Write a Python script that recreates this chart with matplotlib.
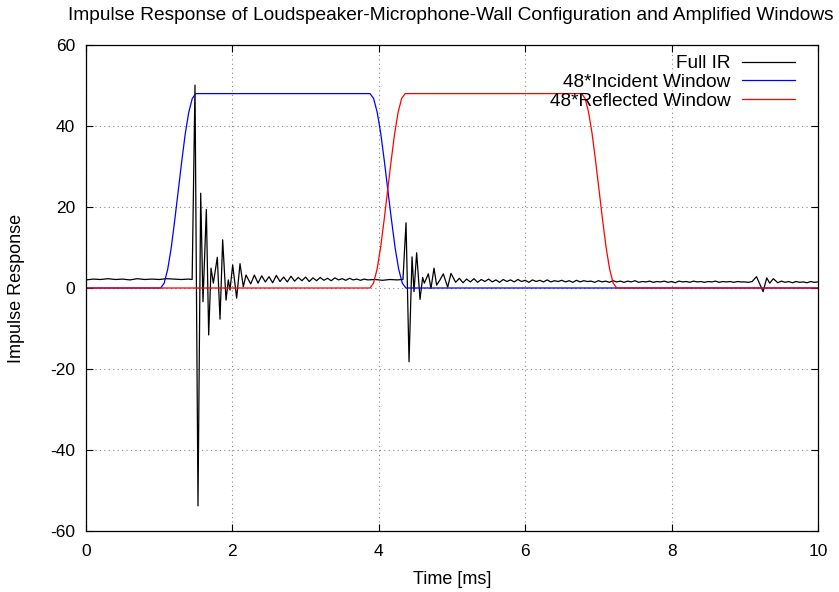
import numpy as np
import matplotlib
matplotlib.use("Agg")
import matplotlib.pyplot as plt

plt.rcParams["font.family"] = ["Liberation Sans", "DejaVu Sans"]
plt.rcParams["axes.unicode_minus"] = False

# --------- Full impulse response (time in ms, value)
t_pre = [0.0, 0.1, 0.2, 0.3, 0.4, 0.5, 0.6, 0.7, 0.8, 0.9, 1.0, 1.1, 1.2, 1.3, 1.4, 1.45]
v_pre = [2.0, 2.2, 2.1, 2.3, 2.1, 2.2, 2.0, 2.3, 2.1, 2.2, 2.1, 2.3, 2.2, 2.1, 2.2, 2.1]

t_direct = [1.489, 1.530, 1.567, 1.598, 1.644, 1.676, 1.708, 1.740, 1.794, 1.831,
            1.867, 1.913, 1.944, 1.967, 2.004, 2.058, 2.104, 2.149, 2.186]
v_direct = [50.1, -53.8, 23.4, -3.4, 19.4, -11.6, 4.9, 1.2, 7.6, -7.7,
            11.9, -3.0, 2.0, -0.5, 5.7, -2.5, 6.0, 0.3, 3.2]

t_tail1 = np.arange(2.25, 3.86, 0.05)
v_tail1 = [1.0, 3.2, 1.2, 3.0, 1.5, 2.8, 1.3, 3.1, 1.6, 2.7, 1.5, 2.9, 1.7, 2.6, 1.8, 2.7,
           1.6, 2.5, 1.8, 2.6, 1.9, 2.4, 1.8, 2.5, 2.0, 2.3, 1.9, 2.4, 2.0, 2.2, 1.9, 2.2, 2.0]

t_gap = [3.95, 4.05, 4.15, 4.25, 4.33]
v_gap = [2.1, 1.9, 2.1, 2.0, 2.1]

t_refl = [4.372, 4.413, 4.454, 4.481, 4.517, 4.563, 4.599, 4.622, 4.677, 4.713,
          4.754, 4.790, 4.836, 4.881, 4.941, 4.986]
v_refl = [16.1, -18.2, 7.7, -0.9, 8.7, -2.8, 2.6, 1.2, 3.5, -0.1,
          4.9, 0.7, 2.0, 3.5, 0.2, 3.6]

t_tail2 = np.arange(5.05, 9.11, 0.05)
v_tail2 = [1.4, 2.4, 1.3, 2.2, 1.5, 2.3, 1.4, 2.1, 1.6, 2.2, 1.5, 2.0, 1.4, 2.1, 1.6, 2.0,
           1.5, 2.1, 1.6, 1.9, 1.4, 2.0, 1.6, 1.9, 1.5, 2.0, 1.5, 1.8, 1.6, 1.9, 1.5, 1.8,
           1.4, 1.9, 1.5, 1.8, 1.6, 1.7, 1.4, 1.8, 1.5, 1.7, 1.4, 1.8, 1.5, 1.7, 1.4, 1.7,
           1.5, 1.8, 1.4, 1.6, 1.5, 1.7, 1.4, 1.6, 1.5, 1.7, 1.4, 1.6, 1.3, 1.7, 1.5, 1.6,
           1.4, 1.7, 1.5, 1.6, 1.4, 1.6, 1.5, 1.7, 1.4, 1.6, 1.5, 1.6, 1.4, 1.6, 1.5, 1.5,
           1.4, 1.6]

t_blip = [9.16, 9.25, 9.30, 9.34, 9.39]
v_blip = [2.8, -0.9, 2.5, 1.2, 2.3]

t_end = np.arange(9.45, 10.01, 0.05)
v_end = [1.3, 1.7, 1.4, 1.6, 1.3, 1.6, 1.4, 1.5, 1.3, 1.6, 1.4, 1.5]

ir_t = np.concatenate([t_pre, t_direct, t_tail1, t_gap, t_refl, t_tail2, t_blip, t_end])
ir_v = np.concatenate([v_pre, v_direct, v_tail1, v_gap, v_refl, v_tail2, v_blip, v_end])

# --------- Windows (scaled by 48), taper values read along each edge
edge_vals = [0, 1.2, 4.6, 9.9, 16.7, 24.0, 31.3, 38.1, 43.4, 46.8, 48.0]
inc_rise = (1.02, 1.50)
inc_fall = (3.88, 4.37)
ref_rise = (3.88, 4.36)
ref_fall = (6.77, 7.25)


def window(rise, fall):
    n = len(edge_vals)
    up_t = np.linspace(rise[0], rise[1], n)
    dn_t = np.linspace(fall[0], fall[1], n)
    t = np.concatenate([[0.0], up_t, dn_t, [10.0]])
    v = np.concatenate([[0.0], edge_vals, edge_vals[::-1], [0.0]])
    return t, v


inc_t, inc_v = window(inc_rise, inc_fall)
ref_t, ref_v = window(ref_rise, ref_fall)

fig = plt.figure(figsize=(8.39, 5.92), dpi=100)
ax = fig.add_axes([86/839, 61/592, 732/839, 486/592])

ax.plot(ir_t, ir_v, color="black", lw=0.9, label="Full IR")
ax.plot(inc_t, inc_v, color="#0000ff", lw=0.9, label="48*Incident Window")
ax.plot(ref_t, ref_v, color="#ff0000", lw=0.9, label="48*Reflected Window")

ax.set_xlim(0, 10)
ax.set_ylim(-60, 60)
ax.set_xticks([0, 2, 4, 6, 8, 10])
ax.set_yticks([-60, -40, -20, 0, 20, 40, 60])
ax.grid(True, color="#888888", linestyle=(0, (1, 3)), lw=0.8)
ax.tick_params(direction="in", top=True, right=True, length=5, labelsize=12.5)
ax.tick_params(axis="x", pad=9)
ax.tick_params(axis="y", pad=8)
for s in ax.spines.values():
    s.set_linewidth(0.9)

ax.set_xlabel("Time [ms]", fontsize=13, labelpad=9)
ax.set_ylabel("Impulse Response", fontsize=13, labelpad=18)
fig.text(451/839, 1 - 15.5/592, "Impulse Response of Loudspeaker-Microphone-Wall Configuration and Amplified Windows",
         ha="center", va="center", fontsize=13.8)

ax.legend(loc="upper right", bbox_to_anchor=(795/839, 1 - 55/592), bbox_transform=fig.transFigure,
          frameon=False, markerfirst=False, fontsize=13.7, handlelength=2.8,
          handletextpad=0.6, labelspacing=0.07, borderpad=0, borderaxespad=0)

fig.savefig("out.png", dpi=100)
